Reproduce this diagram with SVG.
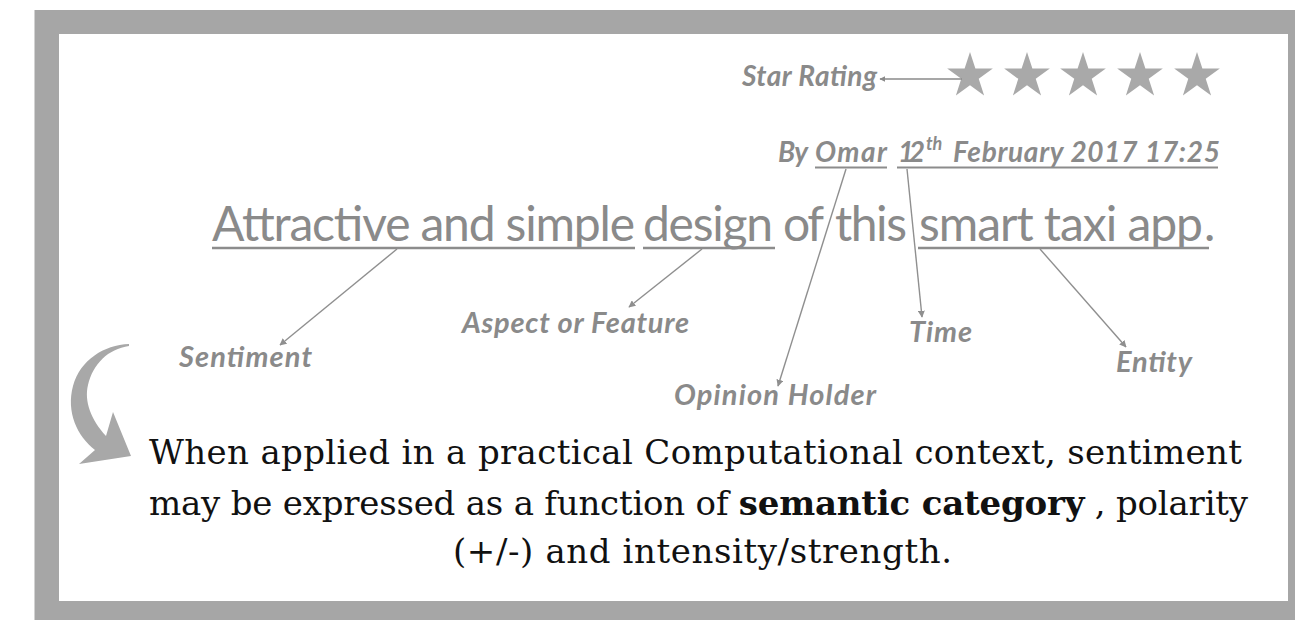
<svg xmlns="http://www.w3.org/2000/svg" width="1295" height="620" viewBox="0 0 1295 620">
  <style>
    .frame { fill: #a6a6a6; }
    .panel { fill: #ffffff; }
    .sans { font-family: Lato, "Open Sans", "Liberation Sans", sans-serif; fill: #8a8a8a; }
    .big { font-size: 48px; }
    .lbl { font-size: 29px; font-weight: bold; font-style: italic; }
    .meta { font-size: 28px; font-weight: bold; font-style: italic; }
    .sup { font-size: 18px; font-weight: bold; font-style: italic; }
    .uline { stroke: #8c8c8c; stroke-width: 2.5; }
    .uline-s { stroke: #8c8c8c; stroke-width: 2; }
    .conn { stroke: #8f8f8f; stroke-width: 1.4; fill: none; marker-end: url(#tip); }
    .note { font-family: "DejaVu Serif", "Liberation Serif", serif; font-size: 34px; fill: #111111; }
    .star { fill: #a9a9a9; }
  </style>
  <defs>
    <marker id="tip" viewBox="0 0 10 10" refX="9" refY="5" markerWidth="7" markerHeight="7" orient="auto" markerUnits="userSpaceOnUse">
      <path d="M0,0 L10,5 L0,10 z" fill="#8f8f8f"/>
    </marker>
    <marker id="tip-s" viewBox="0 0 10 10" refX="9" refY="5" markerWidth="6" markerHeight="6" orient="auto" markerUnits="userSpaceOnUse">
      <path d="M0,0 L10,5 L0,10 z" fill="#8a8a8a"/>
    </marker>
    <path id="star" d="M0,-24 L5.39,-7.42 L22.83,-7.42 L8.72,2.83 L14.11,19.42 L0,9.17 L-14.11,19.42 L-8.72,2.83 L-22.83,-7.42 L-5.39,-7.42 Z"/>
  </defs>

  <!-- grey frame and white panel -->
  <rect class="frame" x="34.5" y="10" width="1260.5" height="610"/>
  <rect class="panel" x="59" y="34" width="1229" height="567"/>

  <!-- star rating -->
  <g id="star-rating">
    <text class="sans meta" x="742" y="86" textLength="135">Star Rating</text>
  </g>
  <g id="stars">
    <use href="#star" class="star" x="970" y="76"/>
    <use href="#star" class="star" x="1027" y="76"/>
    <use href="#star" class="star" x="1083" y="76"/>
    <use href="#star" class="star" x="1140" y="76"/>
    <use href="#star" class="star" x="1197" y="76"/>
  </g>

  <!-- author and date line -->
  <g id="byline">
    <text class="sans meta" x="778" y="162" textLength="30">By</text>
    <text class="sans meta" x="815" y="162" textLength="72">Omar</text>
    <text class="sans meta" x="898" y="162" textLength="27">12</text>
    <text class="sans sup" x="926" y="150">th</text>
    <text class="sans meta" x="953" y="162" textLength="267">February 2017 17:25</text>
    <line class="uline-s" x1="815" y1="167.5" x2="887" y2="167.5"/>
    <line class="uline-s" x1="897" y1="167.5" x2="1218" y2="167.5"/>
  </g>

  <!-- review sentence -->
  <g id="sentence">
    <text class="sans big" x="212" y="241" textLength="423">Attractive and simple</text>
    <text class="sans big" x="643" y="241" textLength="130">design</text>
    <text class="sans big" x="783" y="241" textLength="41">of</text>
    <text class="sans big" x="835" y="241" textLength="72">this</text>
    <text class="sans big" x="919" y="241" textLength="284">smart taxi app</text>
    <text class="sans big" x="1204" y="241" textLength="11">.</text>
    <line class="uline" x1="212" y1="248" x2="635" y2="248"/>
    <line class="uline" x1="643" y1="248" x2="775" y2="248"/>
    <line class="uline" x1="918" y1="248" x2="1209" y2="248"/>
  </g>

  <!-- labels -->
  <g id="sentiment">
    <text class="sans lbl" x="179" y="367" textLength="133">Sentiment</text>
  </g>
  <g id="aspect">
    <text class="sans lbl" x="462" y="333" textLength="227">Aspect or Feature</text>
  </g>
  <g id="opinion-holder">
    <text class="sans lbl" x="674" y="405" textLength="202">Opinion Holder</text>
  </g>
  <g id="time">
    <text class="sans lbl" x="909" y="342" textLength="63">Time</text>
  </g>
  <g id="entity">
    <text class="sans lbl" x="1116" y="372" textLength="76">Entity</text>
  </g>

  <!-- connectors -->
  <g id="connectors">
    <line x1="962" y1="79" x2="880" y2="79" stroke="#8a8a8a" stroke-width="1.6" marker-end="url(#tip-s)"/>
    <line class="conn" x1="397" y1="249" x2="280" y2="345"/>
    <line class="conn" x1="702" y1="249" x2="629" y2="307"/>
    <line class="conn" x1="846" y1="169" x2="778" y2="386"/>
    <line class="conn" x1="907" y1="169" x2="922" y2="317"/>
    <line class="conn" x1="1040" y1="249" x2="1126" y2="347"/>
  </g>

  <!-- curved pointer into the note -->
  <g id="curved-arrow">
    <path fill="#a8a8a8" d="M129,344 C104,345 80,360 73,386 C66,412 77,436 95,450 L79,464 L131,456 L113,412 L106,436 C91,420 84,401 88,385 C93,364 108,349 129,346 Z"/>
  </g>

  <!-- explanatory note -->
  <g id="note">
    <text class="note" x="149" y="464" textLength="1093">When applied in a practical Computational context, sentiment</text>
    <text class="note" x="149" y="515" textLength="1099">may be expressed as a function of <tspan font-weight="bold">semantic category</tspan> , polarity</text>
    <text class="note" x="453" y="563" textLength="499">(+/-) and intensity/strength.</text>
  </g>
</svg>
